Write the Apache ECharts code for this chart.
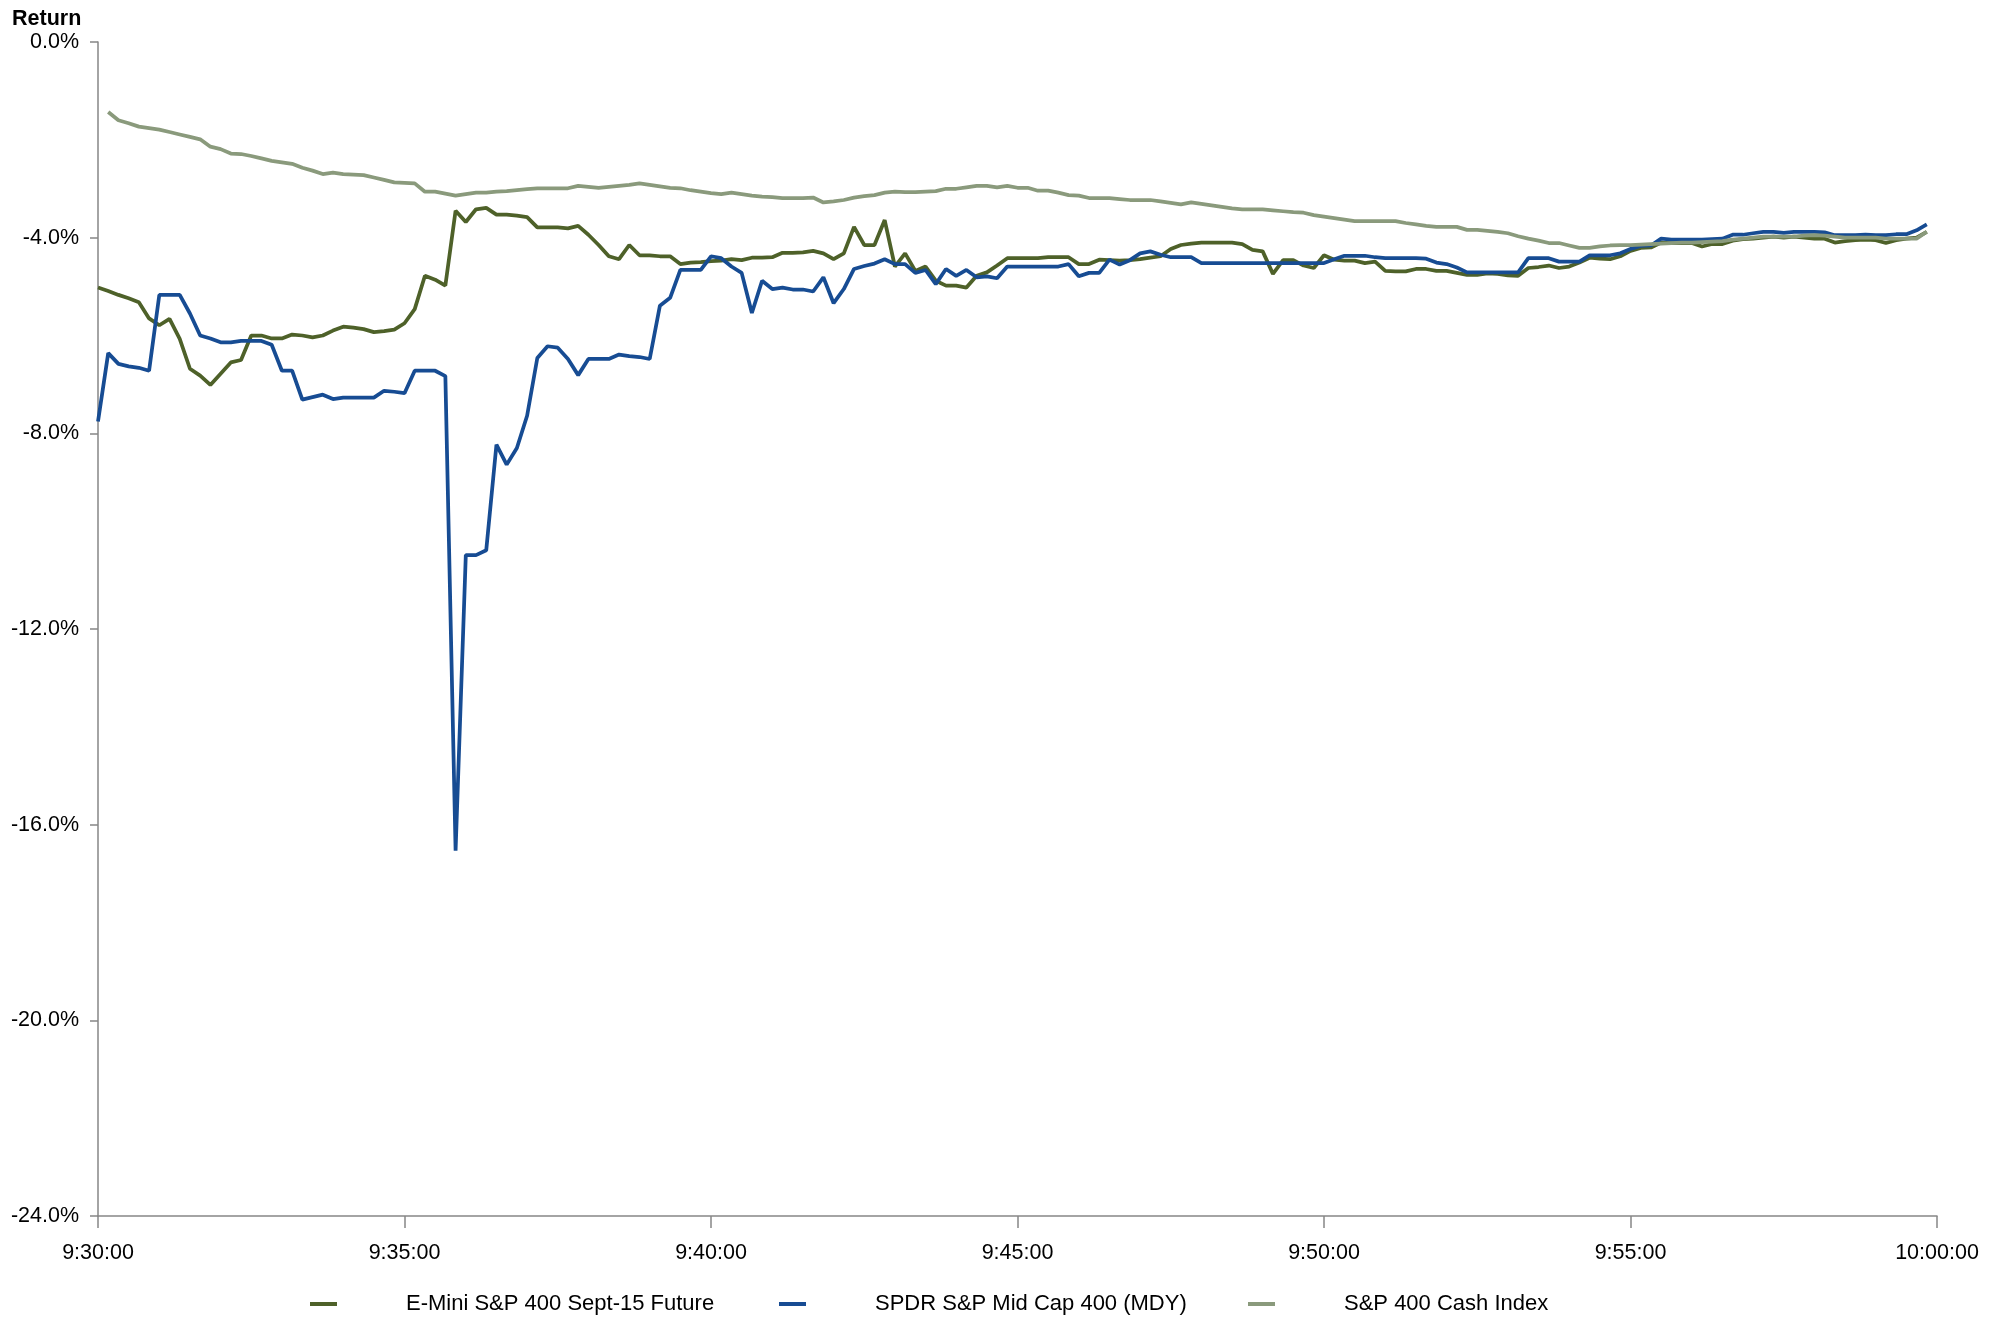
<!DOCTYPE html>
<html>
<head>
<meta charset="utf-8">
<script src="https://cdn.jsdelivr.net/npm/echarts@6/dist/echarts.min.js"></script>
<style>
html,body{margin:0;padding:0;background:#fff;}
#chart{width:1998px;height:1317px;}
</style>
</head>
<body>
<div id="chart"></div>
<script>
// Series names
const seriesNames = ['E-Mini S&P 400 Sept-15 Future', 'SPDR S&P Mid Cap 400 (MDY)', 'S&P 400 Cash Index'];

// Return (%) at 10-second steps from 9:30:00 to 9:59:50
const emini = [
-5.02,-5.09,-5.17,-5.24,-5.32,-5.65,-5.79,-5.66,-6.07,-6.68,
-6.82,-7.01,-6.78,-6.55,-6.50,-6.00,-6.00,-6.06,-6.06,-5.98,
-6.00,-6.04,-6.00,-5.90,-5.82,-5.84,-5.87,-5.93,-5.91,-5.88,
-5.75,-5.46,-4.78,-4.86,-4.98,-3.45,-3.68,-3.42,-3.39,-3.53,
-3.53,-3.55,-3.58,-3.79,-3.79,-3.79,-3.81,-3.76,-3.94,-4.15,
-4.38,-4.44,-4.15,-4.36,-4.36,-4.38,-4.38,-4.54,-4.51,-4.50,
-4.48,-4.47,-4.44,-4.46,-4.41,-4.41,-4.40,-4.31,-4.31,-4.30,
-4.27,-4.32,-4.44,-4.32,-3.78,-4.15,-4.15,-3.64,-4.59,-4.32,
-4.68,-4.59,-4.88,-4.98,-4.98,-5.02,-4.78,-4.71,-4.57,-4.42,
-4.42,-4.42,-4.42,-4.40,-4.40,-4.40,-4.54,-4.54,-4.45,-4.46,
-4.47,-4.46,-4.44,-4.41,-4.38,-4.23,-4.15,-4.12,-4.10,-4.10,
-4.10,-4.10,-4.13,-4.25,-4.28,-4.74,-4.46,-4.46,-4.57,-4.62,
-4.36,-4.45,-4.47,-4.47,-4.52,-4.49,-4.68,-4.69,-4.69,-4.64,
-4.64,-4.68,-4.68,-4.72,-4.76,-4.76,-4.73,-4.74,-4.77,-4.78,
-4.62,-4.60,-4.57,-4.62,-4.59,-4.51,-4.41,-4.43,-4.44,-4.38,
-4.27,-4.21,-4.20,-4.10,-4.11,-4.11,-4.11,-4.18,-4.13,-4.13,
-4.06,-4.03,-4.02,-4.00,-3.98,-4.00,-3.98,-4.00,-4.02,-4.02,
-4.10,-4.07,-4.05,-4.04,-4.05,-4.11,-4.05,-4.02,-4.00,-3.88
];

const mdy = [
-7.76,-6.36,-6.58,-6.63,-6.66,-6.72,-5.17,-5.17,-5.17,-5.55,
-6.00,-6.06,-6.14,-6.14,-6.11,-6.11,-6.11,-6.19,-6.72,-6.72,
-7.31,-7.26,-7.21,-7.30,-7.27,-7.27,-7.27,-7.27,-7.13,-7.15,
-7.18,-6.72,-6.72,-6.72,-6.83,-16.53,-10.49,-10.49,-10.39,-8.23,
-8.64,-8.30,-7.64,-6.46,-6.22,-6.25,-6.48,-6.81,-6.48,-6.48,
-6.48,-6.39,-6.42,-6.44,-6.48,-5.39,-5.23,-4.66,-4.66,-4.66,
-4.38,-4.42,-4.59,-4.72,-5.54,-4.88,-5.05,-5.02,-5.06,-5.06,
-5.10,-4.81,-5.34,-5.05,-4.64,-4.58,-4.53,-4.44,-4.54,-4.54,
-4.72,-4.66,-4.95,-4.64,-4.78,-4.66,-4.81,-4.79,-4.83,-4.59,
-4.59,-4.59,-4.59,-4.59,-4.59,-4.54,-4.79,-4.72,-4.72,-4.45,
-4.55,-4.46,-4.32,-4.28,-4.35,-4.40,-4.40,-4.40,-4.52,-4.52,
-4.52,-4.52,-4.52,-4.52,-4.52,-4.52,-4.52,-4.52,-4.52,-4.52,
-4.52,-4.44,-4.37,-4.37,-4.37,-4.40,-4.42,-4.42,-4.42,-4.42,
-4.43,-4.51,-4.54,-4.61,-4.71,-4.71,-4.71,-4.71,-4.71,-4.71,
-4.42,-4.42,-4.42,-4.49,-4.49,-4.49,-4.36,-4.36,-4.36,-4.32,
-4.23,-4.17,-4.16,-4.02,-4.04,-4.04,-4.04,-4.04,-4.03,-4.02,
-3.94,-3.94,-3.91,-3.88,-3.88,-3.90,-3.88,-3.88,-3.88,-3.89,
-3.95,-3.95,-3.95,-3.94,-3.95,-3.95,-3.93,-3.93,-3.85,-3.73
];

const cash = [
null,-1.43,-1.60,-1.66,-1.73,-1.76,-1.79,-1.84,-1.89,-1.94,
-1.99,-2.14,-2.19,-2.28,-2.29,-2.33,-2.38,-2.43,-2.46,-2.49,
-2.57,-2.63,-2.70,-2.67,-2.70,-2.71,-2.72,-2.77,-2.82,-2.87,
-2.88,-2.89,-3.06,-3.06,-3.10,-3.14,-3.11,-3.08,-3.08,-3.06,
-3.05,-3.03,-3.01,-2.99,-2.99,-2.99,-2.99,-2.94,-2.96,-2.98,
-2.96,-2.94,-2.92,-2.89,-2.92,-2.95,-2.98,-2.99,-3.03,-3.06,
-3.09,-3.11,-3.08,-3.11,-3.14,-3.16,-3.17,-3.19,-3.19,-3.19,
-3.18,-3.28,-3.26,-3.23,-3.18,-3.15,-3.13,-3.08,-3.06,-3.07,
-3.07,-3.06,-3.05,-3.00,-3.00,-2.97,-2.94,-2.94,-2.97,-2.94,
-2.98,-2.98,-3.04,-3.04,-3.08,-3.13,-3.14,-3.19,-3.19,-3.19,
-3.21,-3.23,-3.23,-3.23,-3.26,-3.29,-3.32,-3.28,-3.31,-3.34,
-3.37,-3.40,-3.42,-3.42,-3.42,-3.44,-3.46,-3.48,-3.49,-3.54,
-3.57,-3.60,-3.63,-3.66,-3.66,-3.66,-3.66,-3.66,-3.70,-3.73,
-3.76,-3.78,-3.78,-3.78,-3.84,-3.84,-3.86,-3.88,-3.91,-3.97,
-4.02,-4.06,-4.11,-4.11,-4.16,-4.21,-4.21,-4.18,-4.16,-4.15,
-4.15,-4.14,-4.13,-4.12,-4.11,-4.10,-4.10,-4.09,-4.08,-4.07,
-4.04,-4.02,-4.00,-3.98,-3.98,-3.98,-3.98,-3.96,-3.95,-3.96,
-3.98,-4.00,-4.00,-4.00,-4.00,-4.02,-4.02,-4.02,-4.02,-3.88
];

// Y axis range / ticks (percent)
const yMin = -24, yMax = 0, yStep = 4;

// Time categories 9:30:00 .. 10:00:00 every 10 seconds; labels every 5 minutes
const startSec = 9 * 3600 + 30 * 60;
const stepSec = 10;
const nCats = 181;
const categories = [];
for (let k = 0; k < nCats; k++) {
  const t = startSec + k * stepSec;
  const h = Math.floor(t / 3600), m = Math.floor((t % 3600) / 60), s = t % 60;
  categories.push(h + ':' + String(m).padStart(2, '0') + ':' + String(s).padStart(2, '0'));
}
const labelEvery = 30;

const colors = ['#4E6129', '#174C93', '#8A9A7C'];
const FONT = '"Liberation Sans", Arial, sans-serif';
const FS = 21.5;

const chart = echarts.init(document.getElementById('chart'), null, {renderer: 'canvas'});

const legendBase = {
  top: 1288,
  icon: 'rect',
  itemWidth: 27,
  itemHeight: 4,
  textStyle: {fontFamily: FONT, fontSize: 22, color: '#000', padding: [0, 0, 0, 64]}
};

chart.setOption({
  animation: false,
  backgroundColor: '#ffffff',
  color: colors,
  title: {
    text: 'Return',
    left: 7,
    top: 3,
    textStyle: {fontFamily: FONT, fontSize: 21.5, fontWeight: 'bold', color: '#000'}
  },
  legend: [
    Object.assign({}, legendBase, {data: [seriesNames[0]], left: 305}),
    Object.assign({}, legendBase, {data: [seriesNames[1]], left: 774}),
    Object.assign({}, legendBase, {data: [seriesNames[2]], left: 1243})
  ],
  grid: {left: 98, right: 61, top: 42, bottom: 101, containLabel: false},
  xAxis: {
    type: 'category',
    data: categories,
    boundaryGap: false,
    axisLine: {onZero: false, lineStyle: {color: '#868686', width: 1.5}},
    axisTick: {show: true, length: 12, interval: function (i) { return i % labelEvery === 0; }, lineStyle: {color: '#868686', width: 1.5}},
    axisLabel: {
      interval: function (i) { return i % labelEvery === 0; },
      margin: 26,
      fontFamily: FONT, fontSize: FS, color: '#000',
      showMaxLabel: true
    },
    splitLine: {show: false}
  },
  yAxis: {
    type: 'value',
    min: yMin, max: yMax, interval: yStep,
    axisLine: {show: true, lineStyle: {color: '#868686', width: 1.5}},
    axisTick: {show: true, length: 8, lineStyle: {color: '#868686', width: 1.5}},
    axisLabel: {
      margin: 19,
      fontFamily: FONT, fontSize: FS, color: '#000',
      formatter: function (v) { return v.toFixed(1) + '%'; }
    },
    splitLine: {show: false}
  },
  series: [
    {name: seriesNames[0], type: 'line', data: emini, showSymbol: false, symbol: 'none',
     lineStyle: {color: colors[0], width: 3.75}, itemStyle: {color: colors[0]}},
    {name: seriesNames[1], type: 'line', data: mdy, showSymbol: false, symbol: 'none',
     lineStyle: {color: colors[1], width: 3.75}, itemStyle: {color: colors[1]}},
    {name: seriesNames[2], type: 'line', data: cash, showSymbol: false, symbol: 'none',
     lineStyle: {color: colors[2], width: 3.75}, itemStyle: {color: colors[2]}}
  ]
});
</script>
</body>
</html>
